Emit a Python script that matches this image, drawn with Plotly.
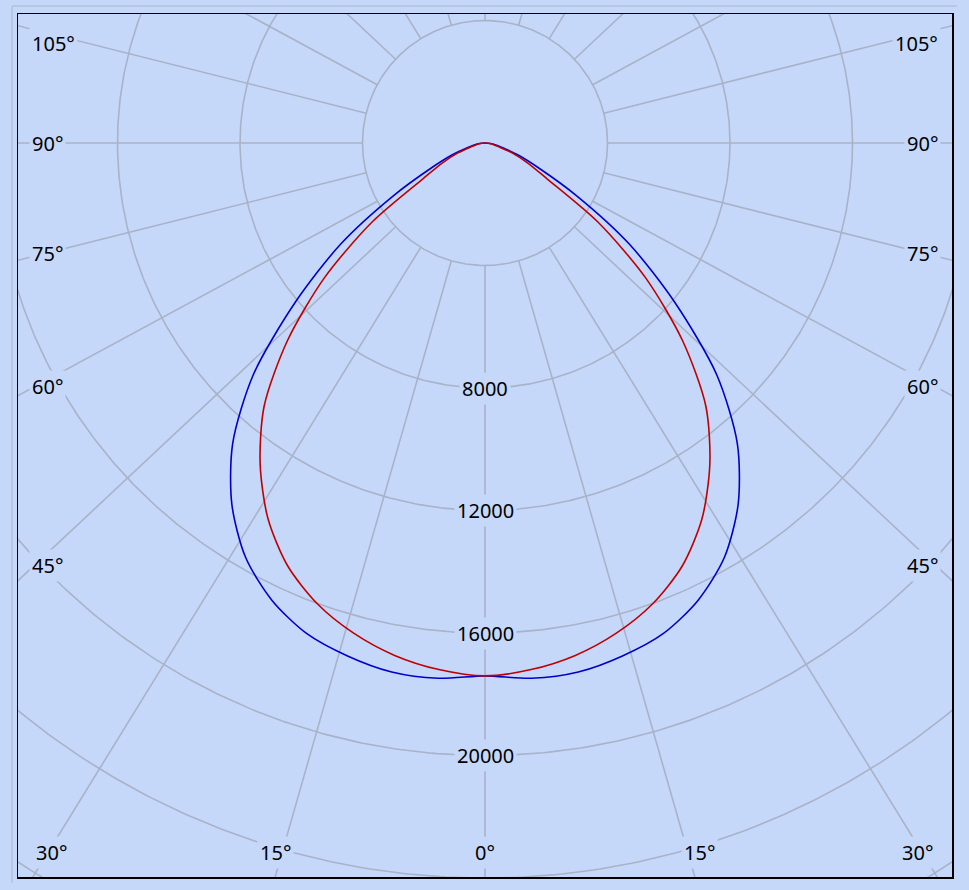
import numpy as np
import plotly.graph_objects as go

# ---- data (cd, by gamma angle in degrees) ----
angles = [0, 5, 10, 15, 20, 25, 30, 35, 40, 45, 50, 55, 60, 65, 70, 75, 80, 85, 90]
blue_vals = [17400, 17545, 17540, 17340, 17040, 16470, 15630, 14410, 12820, 10700,
             8080, 5750, 3480, 1950, 1150, 620, 360, 170, 0]
red_vals = [17400, 17260, 16990, 16570, 16010, 15240, 14170, 12800, 11220, 9120,
            6840, 4500, 2340, 1530, 940, 450, 270, 120, 0]

ring_values = [4000, 8000, 12000, 16000, 20000, 24000, 28000]
ring_labels = [8000, 12000, 16000, 20000]
spoke_angles = list(range(0, 360, 15))
spoke_skew = 1.067          # spokes in the original are drawn slightly splayed

side_labels = ["105°", "90°", "75°", "60°", "45°"]
side_label_y = [3265, 0, -3592, -7935, -13780]
side_label_x = 14890
bottom_labels = ["30°", "15°", "0°", "15°", "30°"]
bottom_label_x = [-14139, -6857, 16, 6988, 14106]
bottom_label_y = -23151

BG = "#c5d8fa"
GRID = "#a9b2c7"
FONT = "Noto Sans"
FS = 20

fig = go.Figure()

# rings
tt = np.linspace(0, 2 * np.pi, 721)
rx, ry = [], []
for R in ring_values:
    rx += list(R * np.cos(tt)) + [None]
    ry += list(R * np.sin(tt)) + [None]
fig.add_trace(go.Scatter(x=rx, y=ry, mode="lines", line=dict(color=GRID, width=1.6),
                         hoverinfo="skip", showlegend=False))

# spokes (start at the inner 4000 ring)
sx, sy = [], []
for a in spoke_angles:
    t = np.radians(a)
    dx, dy = spoke_skew * np.sin(t), -np.cos(t)
    n = np.hypot(dx, dy)
    dx, dy = dx / n, dy / n
    sx += [ring_values[0] * dx, 40000 * dx, None]
    sy += [ring_values[0] * dy, 40000 * dy, None]
fig.add_trace(go.Scatter(x=sx, y=sy, mode="lines", line=dict(color=GRID, width=1.6),
                         hoverinfo="skip", showlegend=False))


def curve(vals):
    a = np.array([-x for x in angles[::-1]] + angles[1:], dtype=float)
    r = np.array(vals[::-1] + vals[1:], dtype=float)
    t = np.radians(a)
    return r * np.sin(t), -r * np.cos(t)


bx, by = curve(blue_vals)
fig.add_trace(go.Scatter(x=bx, y=by, mode="lines",
                         line=dict(color="#0000cc", width=1.6, shape="spline", smoothing=0.8),
                         showlegend=False))
cx, cy = curve(red_vals)
fig.add_trace(go.Scatter(x=cx, y=cy, mode="lines",
                         line=dict(color="#c00000", width=1.6, shape="spline", smoothing=0.8),
                         showlegend=False))

ann = []
for v in ring_labels:
    ann.append(dict(x=0, y=-v, text=str(v), showarrow=False, xanchor="center", yanchor="middle",
                    bgcolor=BG, borderpad=2, font=dict(family=FONT, size=FS, color="black")))
for txt, y in zip(side_labels, side_label_y):
    ann.append(dict(x=side_label_x, y=y, text=txt, showarrow=False, xanchor="right", yanchor="middle",
                    bgcolor=BG, borderpad=2, font=dict(family=FONT, size=FS, color="black")))
    ann.append(dict(x=-side_label_x, y=y, text=txt, showarrow=False, xanchor="left", yanchor="middle",
                    bgcolor=BG, borderpad=2, font=dict(family=FONT, size=FS, color="black")))
for txt, x in zip(bottom_labels, bottom_label_x):
    ann.append(dict(x=x, y=bottom_label_y, text=txt, showarrow=False, xanchor="center", yanchor="middle",
                    bgcolor=BG, borderpad=2, font=dict(family=FONT, size=FS, color="black")))

W, H = 969, 890
ml, mr, mt, mb = 18, 17, 14, 13
pw, ph = W - ml - mr, H - mt - mb
s = 122.5 / 4000.0
cx_px, cy_px = 485 - ml, 143 - mt
xr = [-cx_px / s, (pw - cx_px) / s]
yr = [-(ph - cy_px) / s, cy_px / s]

fig.update_layout(
    width=W, height=H,
    margin=dict(l=ml, r=mr, t=mt, b=mb),
    paper_bgcolor=BG, plot_bgcolor=BG,
    annotations=ann,
    xaxis=dict(range=xr, showgrid=False, zeroline=False, showticklabels=False, ticks="",
               showline=True, mirror=True, linecolor="black", linewidth=1.5, fixedrange=True),
    yaxis=dict(range=yr, showgrid=False, zeroline=False, showticklabels=False, ticks="",
               showline=True, mirror=True, linecolor="black", linewidth=1.5, fixedrange=True),
    shapes=[
        dict(type="line", xref="paper", yref="paper", x0=-6 / pw, x1=-6 / pw,
             y0=(H - mb - 883) / ph, y1=(H - mb - 6) / ph, line=dict(color="#aab6cc", width=1)),
        dict(type="line", xref="paper", yref="paper", x0=-6 / pw, x1=(957 - ml) / pw,
             y0=(H - mb - 6) / ph, y1=(H - mb - 6) / ph, line=dict(color="#aab6cc", width=1)),
    ],
)

fig.write_html(
    "out.html",
    config={"displayModeBar": False, "staticPlot": True},
    post_script="document.body.style.margin='0px';document.body.style.background='" + BG + "';",
)
